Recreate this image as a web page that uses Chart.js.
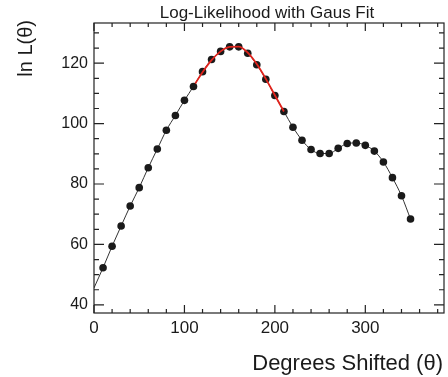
<!DOCTYPE html>
<html><head><meta charset="utf-8">
<script src="https://cdn.jsdelivr.net/npm/chart.js@4/dist/chart.umd.min.js"></script>
<style>html,body{margin:0;padding:0;background:#fff}#wrap{width:448px;height:377px}</style>
</head><body><div id="wrap"><canvas id="c" width="448" height="377"></canvas></div>
<script>
const degrees = [10,20,30,40,50,60,70,80,90,100,110,120,130,140,150,160,170,180,190,200,210,220,230,240,250,260,270,280,290,300,310,320,330,340,350];
const lnL = [52.3,59.4,66.1,72.7,78.8,85.4,91.6,97.8,102.7,107.7,112.3,117.2,121.2,123.9,125.4,125.4,123.3,119.5,114.7,109.3,104.0,98.8,94.5,91.4,90.1,90.1,91.8,93.4,93.6,92.8,90.9,87.3,82.1,76.1,68.4];
const curveStart = {x: 0, y: 45.6};
const fitX = [112,120,130,140,150,160,170,180,190,200,210];
const fitY = [113.3,117.0,121.0,123.9,125.4,125.5,123.5,119.7,114.8,109.4,104.0];
const xTicks = [0,100,200,300];
const yTicks = [40,60,80,100,120];
const titleText = 'Log-Likelihood with Gaus Fit';
const xTitle = 'Degrees Shifted (\u03b8)';
const yTitle = 'ln L(\u03b8)';

const FONT = '"Liberation Sans", Arial, sans-serif';
const curveData = [curveStart].concat(degrees.map((d,i)=>({x:d,y:lnL[i]})));
const fitData = fitX.map((d,i)=>({x:d,y:fitY[i]}));

const frame = {
  id: 'frame',
  afterDraw(chart){
    const ctx = chart.ctx, a = chart.chartArea;
    const xs = chart.scales.x, ys = chart.scales.y;
    ctx.save();
    ctx.strokeStyle = '#222'; ctx.lineWidth = 1.2;
    ctx.strokeRect(a.left, a.top, a.right - a.left, a.bottom - a.top);
    ctx.beginPath();
    for (let v = 0; v <= xs.max; v += 20) {
      const px = xs.getPixelForValue(v);
      const L = (v % 100 === 0) ? 8 : 4;
      ctx.moveTo(px, a.bottom); ctx.lineTo(px, a.bottom - L);
      ctx.moveTo(px, a.top); ctx.lineTo(px, a.top + L);
    }
    for (let v = 40; v <= ys.max; v += 5) {
      const py = ys.getPixelForValue(v);
      const L = (v % 20 === 0) ? 10 : 5;
      ctx.moveTo(a.left, py); ctx.lineTo(a.left + L, py);
      ctx.moveTo(a.right, py); ctx.lineTo(a.right - L, py);
    }
    ctx.stroke();
    ctx.fillStyle = '#1a1a1a';
    ctx.font = '17px ' + FONT;
    ctx.textAlign = 'center'; ctx.textBaseline = 'alphabetic';
    ctx.fillText(titleText, 267, 18);
    ctx.font = '22px ' + FONT;
    ctx.textAlign = 'right';
    ctx.fillText(xTitle, a.right - 1, 370);
    ctx.translate(32, a.top - 3);
    ctx.rotate(-Math.PI/2);
    ctx.font = '20px ' + FONT;
    ctx.textAlign = 'right';
    ctx.fillText(yTitle, 0, 0);
    ctx.restore();
  }
};

new Chart(document.getElementById('c'), {
  type: 'scatter',
  data: { datasets: [
    { data: fitData, showLine: true, borderColor: '#e0231c', borderWidth: 1.8, pointRadius: 0, cubicInterpolationMode: 'monotone', order: 0 },
    { data: curveData, showLine: true, borderColor: '#333', borderWidth: 1, backgroundColor: '#1a1a1a',
      pointRadius: ctx => ctx.dataIndex === 0 ? 0 : 3.8, pointBorderWidth: 0, cubicInterpolationMode: 'monotone', order: 1 }
  ]},
  plugins: [frame],
  options: {
    responsive: false, animation: false, devicePixelRatio: 1,
    layout: { padding: { left: 0, top: 23, right: 1, bottom: 0 } },
    plugins: { legend: { display: false }, tooltip: { enabled: false }, title: { display: false } },
    scales: {
      x: { type: 'linear', min: 0, max: 387,
        afterFit: s => { s.height = 64; },
        afterBuildTicks: s => { s.ticks = xTicks.map(v => ({value: v})); },
        grid: { display: false, drawTicks: false }, border: { display: false },
        ticks: { font: { family: FONT, size: 17 }, color: '#1a1a1a', padding: 5, maxRotation: 0 } },
      y: { type: 'linear', min: 37.3, max: 133.3,
        afterFit: s => { s.width = 94; },
        afterBuildTicks: s => { s.ticks = yTicks.map(v => ({value: v})); },
        grid: { display: false, drawTicks: false }, border: { display: false },
        ticks: { font: { family: FONT, size: 16 }, color: '#1a1a1a', padding: 6 } }
    }
  }
});
</script></body></html>
